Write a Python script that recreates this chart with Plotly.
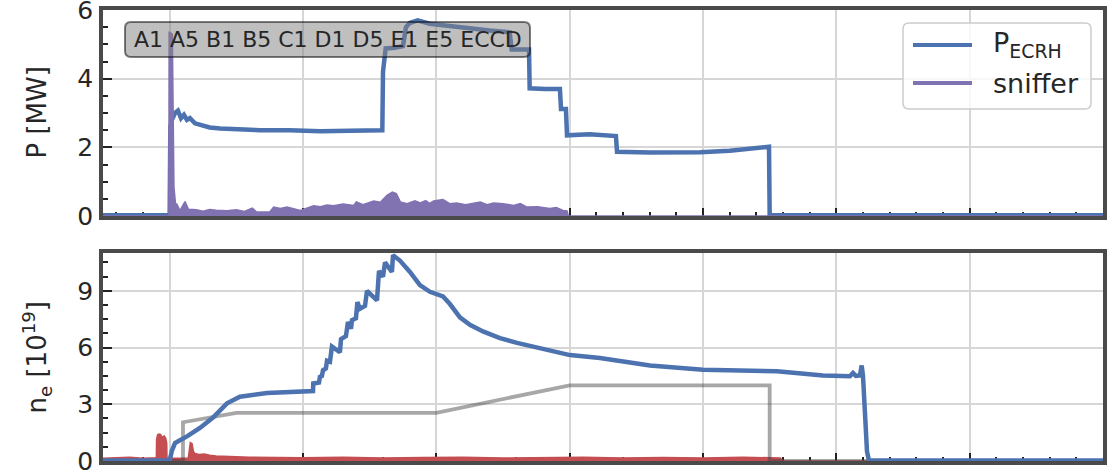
import plotly.graph_objects as go

# ---- time base [s] ----
T_MIN, T_MAX = -0.5, 7.0

# ECRH heating power [MW]
ecrh_t = [-0.5, 0.0, 0.005, 0.017, 0.04, 0.062, 0.085, 0.107, 0.13, 0.152, 0.19, 0.227,
          0.265, 0.30, 0.38, 0.53, 0.68, 0.90, 1.13, 1.35, 1.595, 1.60, 1.62, 1.69, 1.75,
          1.772, 1.80, 1.86, 1.95, 2.065, 2.25, 2.40, 2.55, 2.565, 2.695, 2.70, 2.815,
          2.927, 2.935, 2.972, 2.98, 3.15, 3.347, 3.355, 3.60, 3.98, 4.20, 4.495, 4.50, 7.0]
ecrh_p = [0.02, 0.02, 2.6, 2.8, 3.0, 3.07, 2.85, 2.95, 2.8, 2.85, 2.7, 2.65,
          2.6, 2.58, 2.55, 2.52, 2.5, 2.5, 2.47, 2.48, 2.5, 4.2, 4.88, 4.9, 4.95,
          5.5, 5.62, 5.7, 5.6, 5.55, 5.45, 5.4, 5.35, 4.85, 4.85, 3.72, 3.7,
          3.7, 3.12, 3.12, 2.35, 2.38, 2.33, 1.87, 1.85, 1.86, 1.9, 2.02, 0.02, 0.02]

# sniffer probe signal (upper envelope) [MW]
sniffer_t = [-0.5, -0.006, -0.004, 0.0, 0.02, 0.027, 0.032, 0.045, 0.052, 0.077, 0.115,
             0.14, 0.20, 0.25, 0.30, 0.35, 0.43, 0.50, 0.56, 0.62, 0.65, 0.75, 0.78,
             0.83, 0.88, 0.98, 1.08, 1.13, 1.18, 1.23, 1.30, 1.38, 1.40, 1.45, 1.48,
             1.53, 1.58, 1.63, 1.67, 1.70, 1.73, 1.78, 1.84, 1.88, 1.92, 1.95, 1.98,
             2.05, 2.10, 2.15, 2.22, 2.28, 2.33, 2.38, 2.43, 2.50, 2.58, 2.63, 2.68,
             2.76, 2.85, 2.90, 2.95, 2.98, 2.99, 7.0]
sniffer_p = [0.0, 0.0, 5.35, 5.35, 5.3, 3.0, 0.85, 0.3, 0.36, 0.16, 0.42,
             0.2, 0.18, 0.14, 0.19, 0.17, 0.15, 0.18, 0.13, 0.23, 0.12, 0.12, 0.26,
             0.22, 0.26, 0.16, 0.3, 0.27, 0.32, 0.3, 0.35, 0.31, 0.41, 0.33, 0.38,
             0.44, 0.4, 0.6, 0.7, 0.65, 0.41, 0.36, 0.44, 0.38, 0.45, 0.37, 0.44,
             0.48, 0.36, 0.38, 0.33, 0.37, 0.41, 0.33, 0.38, 0.36, 0.31, 0.36, 0.26,
             0.27, 0.22, 0.25, 0.16, 0.15, 0.0, 0.0]

# line-integrated electron density [1e19]
ne_t = [-0.5, 0.0, 0.017, 0.04, 0.077, 0.13, 0.227, 0.325, 0.43, 0.527, 0.73, 0.977,
        1.075, 1.077, 1.12, 1.127, 1.142, 1.15, 1.172, 1.18, 1.202, 1.217, 1.277,
        1.285, 1.322, 1.337, 1.36, 1.367, 1.397, 1.408, 1.427, 1.465, 1.48, 1.555,
        1.57, 1.60, 1.615, 1.667, 1.675, 1.727, 1.802, 1.877, 1.952, 2.05, 2.102,
        2.177, 2.252, 2.35, 2.477, 2.605, 2.852, 3.002, 3.227, 3.602, 4.0, 4.555,
        4.9, 5.102, 5.125, 5.147, 5.177, 5.19, 5.20, 5.215, 5.23, 5.245, 7.0]
ne_v = [0.02, 0.02, 0.55, 0.95, 1.1, 1.3, 1.75, 2.3, 3.05, 3.4, 3.6, 3.65,
        3.7, 4.1, 4.15, 4.45, 4.5, 4.8, 4.9, 5.3, 5.25, 6.05, 5.75,
        6.45, 6.6, 7.35, 7.0, 7.45, 7.55, 8.4, 8.05, 8.2, 9.0, 8.5,
        10.05, 9.75, 10.5, 10.0, 10.88, 10.6, 10.0, 9.3, 8.95, 8.7, 8.3,
        7.6, 7.2, 6.85, 6.5, 6.25, 5.85, 5.6, 5.45, 5.05, 4.82, 4.75,
        4.52, 4.48, 4.65, 4.5, 4.52, 5.05, 4.5, 2.5, 0.5, 0.02, 0.02]

# density feedback target [1e19]
target_t = [-0.5, 0.1, 0.1, 0.5, 2.0, 3.0, 4.5, 4.5, 7.0]
target_v = [0.0, 0.0, 2.05, 2.55, 2.55, 4.0, 4.0, 0.0, 0.0]

# gas / stray signal in density panel (upper envelope)
aux_t = [-0.5, -0.3, -0.2, -0.1, -0.098, -0.09, -0.075, -0.065, -0.06, -0.057,
         -0.052, -0.04, -0.03, -0.022, -0.02, 0.0, 0.08, 0.14, 0.148, 0.155, 0.168,
         0.178, 0.19, 0.22, 0.26, 0.30, 0.35, 0.42, 0.5, 0.6, 0.8, 1.0, 1.3, 1.6,
         1.9, 2.2, 2.5, 2.8, 3.1, 3.4, 3.7, 4.0, 4.3, 4.58, 4.6, 7.0]
aux_v = [0.15, 0.2, 0.15, 0.17, 1.15, 1.4, 1.42, 1.38, 1.15, 0.7,
         1.28, 1.32, 1.2, 0.95, 0.15, 0.15, 0.17, 0.15, 0.6, 0.98, 0.92,
         0.5, 0.4, 0.35, 0.37, 0.3, 0.27, 0.25, 0.2, 0.2, 0.18, 0.17, 0.2, 0.16,
         0.18, 0.2, 0.16, 0.18, 0.2, 0.16, 0.18, 0.16, 0.2, 0.16, 0.0, 0.0]

heating_label = "A1 A5 B1 B5 C1 D1 D5 E1 E5 ECCD"
legend_names = ["P<sub>ECRH</sub>", "sniffer"]
axis_titles = ["P [MW]", "n<sub>e</sub> [10<sup>19</sup>]"]

BLUE = "#4C72B0"
PURPLE = "#8172B2"
RED = "#C44E52"
TEXT = "#262626"
FONT = "DejaVu Sans"

fig = go.Figure()

# top panel: heating power and sniffer
fig.add_trace(go.Scatter(x=ecrh_t, y=ecrh_p, mode="lines", name=legend_names[0],
                         line=dict(color=BLUE, width=4.5), xaxis="x", yaxis="y",
                         showlegend=False))
fig.add_trace(go.Scatter(x=sniffer_t, y=sniffer_p, mode="lines", name=legend_names[1],
                         line=dict(color=PURPLE, width=1.5), fill="tozeroy",
                         fillcolor=PURPLE, xaxis="x", yaxis="y", showlegend=False))

# bottom panel: aux signal, density target and density
fig.add_trace(go.Scatter(x=aux_t, y=aux_v, mode="lines", showlegend=False,
                         line=dict(color=RED, width=1.5), fill="tozeroy",
                         fillcolor=RED, xaxis="x2", yaxis="y2"))
fig.add_trace(go.Scatter(x=target_t, y=target_v, mode="lines", showlegend=False,
                         line=dict(color="rgba(60,60,60,0.45)", width=3.8),
                         xaxis="x2", yaxis="y2"))
fig.add_trace(go.Scatter(x=ne_t, y=ne_v, mode="lines", showlegend=False,
                         line=dict(color=BLUE, width=4.5), xaxis="x2", yaxis="y2"))

H_TOP = [0.5432, 1.0]
H_BOT = [0.0, 0.4612]

xcommon = dict(range=[T_MIN, T_MAX], showticklabels=False, ticks="inside", ticklen=8,
               tickwidth=2, tickcolor="#222222", dtick=1, tick0=0,
               minor=dict(ticks="inside", ticklen=4, tickwidth=1.5, tickcolor="#222222",
                          dtick=0.2, showgrid=False),
               showgrid=True, gridcolor="#d6d6d6", gridwidth=2, zeroline=False,
               showline=True, linecolor="#4a4a4a", linewidth=3.5, mirror=True,
               layer="below traces", automargin=False)

ycommon = dict(ticks="inside", ticklen=9, tickwidth=2, tickcolor="#222222",
               showgrid=True, gridcolor="#d6d6d6", gridwidth=2, zeroline=False,
               showline=True, linecolor="#4a4a4a", linewidth=3.5, mirror=True,
               tickfont=dict(family=FONT, size=25, color=TEXT), ticklabelstandoff=1,
               ticklabeloverflow="allow", layer="below traces", automargin=False)

fig.update_layout(
    width=1111, height=475,
    margin=dict(l=103, r=8, t=10, b=14),
    paper_bgcolor="white", plot_bgcolor="white",
    font=dict(family=FONT, color=TEXT),
    showlegend=False,
    xaxis=dict(domain=[0, 1], anchor="y", **xcommon),
    xaxis2=dict(domain=[0, 1], anchor="y2", matches="x", **xcommon),
    yaxis=dict(domain=H_TOP, anchor="x", range=[0, 6], dtick=2, tick0=0,
               minor=dict(ticks="inside", ticklen=5, tickwidth=1.5, tickcolor="#222222",
                          dtick=0.5, showgrid=False),
               **ycommon),
    yaxis2=dict(domain=H_BOT, anchor="x2", range=[0, 11], dtick=3, tick0=0,
                minor=dict(ticks="inside", ticklen=5, tickwidth=1.5, tickcolor="#222222",
                           dtick=0.75, showgrid=False),
                **ycommon),
)

# rotated y-axis titles, centred on each panel
for title, dom in zip(axis_titles, [H_TOP, H_BOT]):
    fig.add_annotation(x=-0.0655, y=(dom[0] + dom[1]) / 2, xref="paper", yref="paper",
                       text=title, textangle=-90, showarrow=False,
                       xanchor="center", yanchor="middle",
                       font=dict(family=FONT, size=26, color=TEXT))


def rounded_box(w, h, r):
    """Closed rounded-rectangle path centred on (0, 0), in pixels."""
    x0, x1, y0, y1 = -w / 2, w / 2, -h / 2, h / 2
    return (f"M{x0 + r},{y0} L{x1 - r},{y0} Q{x1},{y0} {x1},{y0 + r} "
            f"L{x1},{y1 - r} Q{x1},{y1} {x1 - r},{y1} L{x0 + r},{y1} "
            f"Q{x0},{y1} {x0},{y1 - r} L{x0},{y0 + r} Q{x0},{y0} {x0 + r},{y0} Z")


# heating-source label in a translucent rounded box
box_x, box_y = 0.2245, 0.9346
fig.add_shape(type="path", xref="paper", yref="paper", xsizemode="pixel",
              ysizemode="pixel", xanchor=box_x, yanchor=box_y,
              path=rounded_box(405, 35, 6),
              fillcolor="rgba(128,128,128,0.5)",
              line=dict(color="rgba(0,0,0,0.5)", width=2), layer="above")
fig.add_annotation(x=box_x, y=box_y, xref="paper", yref="paper", text=heating_label,
                   showarrow=False, font=dict(family=FONT, size=22, color=TEXT),
                   xanchor="center", yanchor="middle")

# legend frame with line samples for the top-panel traces
leg_cx, leg_cy = 0.894, 0.8758
fig.add_shape(type="path", xref="paper", yref="paper", xsizemode="pixel",
              ysizemode="pixel", xanchor=leg_cx, yanchor=leg_cy,
              path=rounded_box(188, 86, 6),
              fillcolor="rgba(255,255,255,0.8)",
              line=dict(color="#cccccc", width=1.5), layer="above")
for name, color, ly in zip(legend_names, [BLUE, PURPLE], [0.9224, 0.8381]):
    fig.add_shape(type="line", xref="paper", yref="paper", x0=0.81, x1=0.869,
                  y0=ly, y1=ly, line=dict(color=color, width=4), layer="above")
    fig.add_annotation(x=0.888, y=ly, xref="paper", yref="paper", text=name,
                       showarrow=False, xanchor="left", yanchor="middle",
                       font=dict(family=FONT, size=27, color=TEXT))

fig.write_html("out.html")
